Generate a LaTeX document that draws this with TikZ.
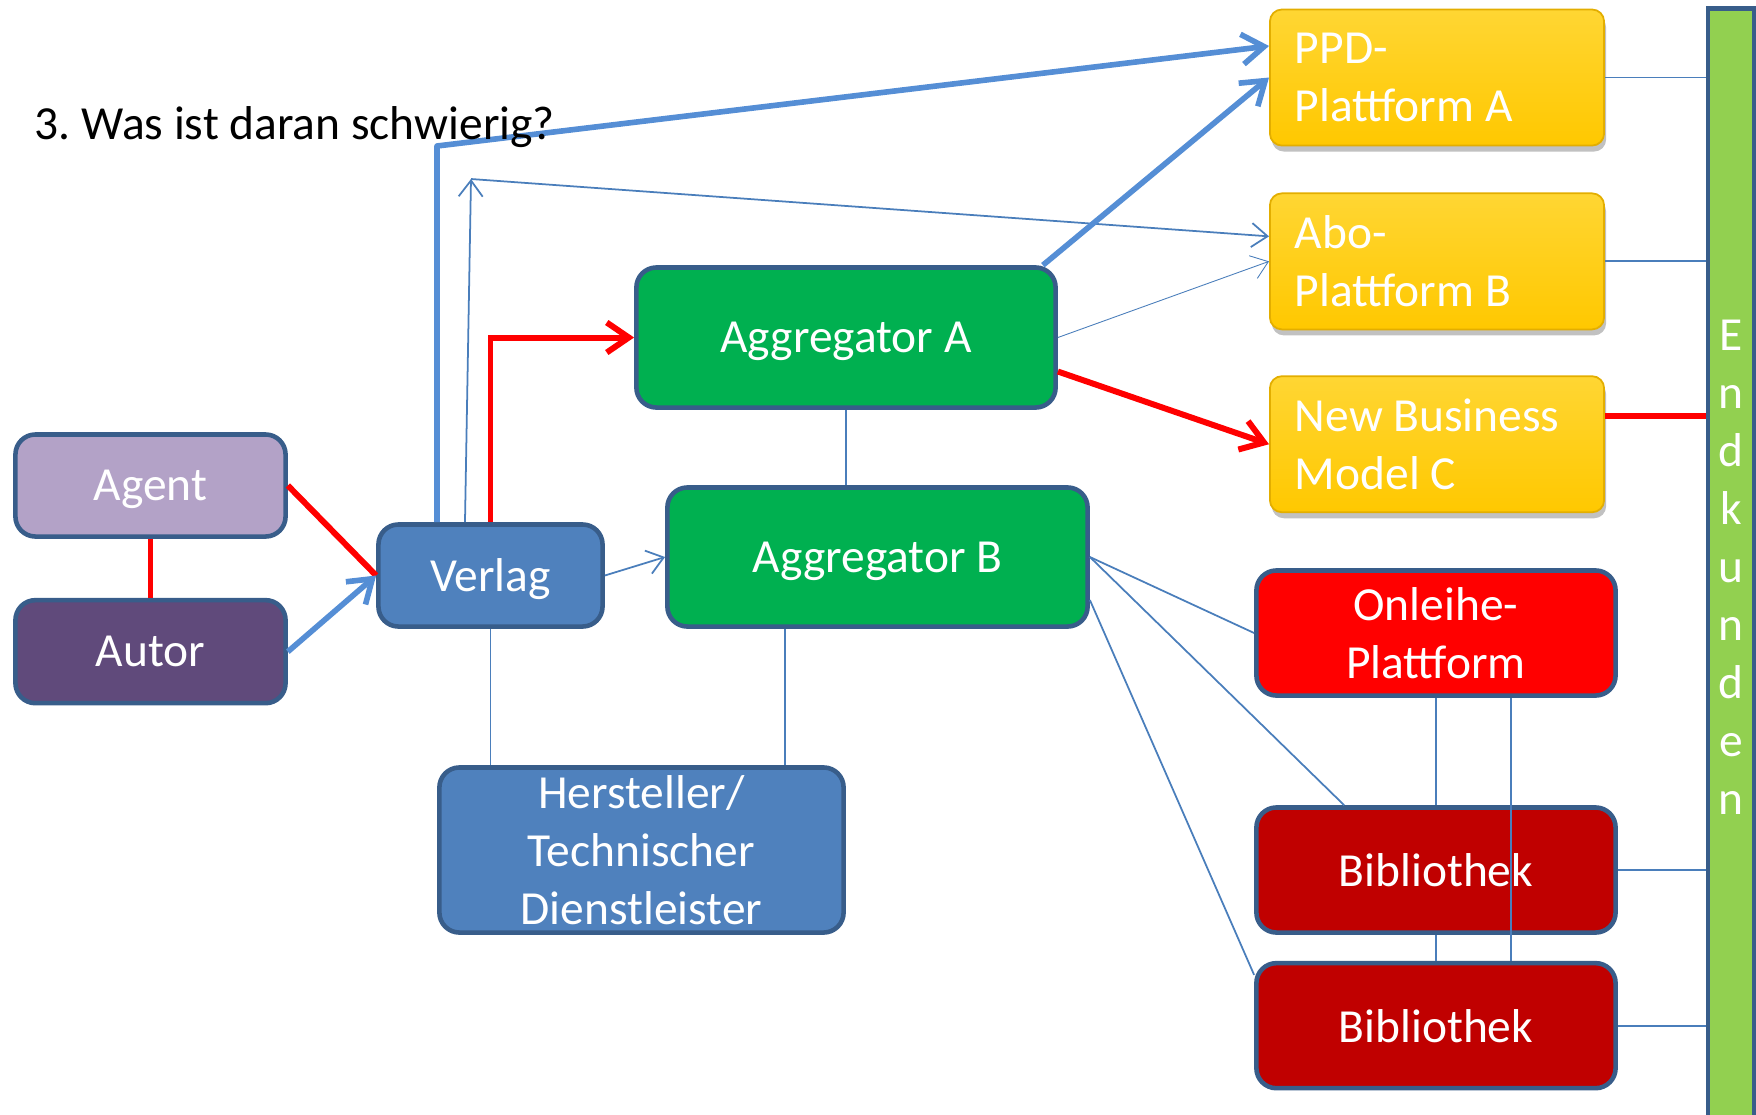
\documentclass[tikz,border=0pt]{standalone}
\usepackage{fontspec}
\setmainfont{Carlito}
\usetikzlibrary{arrows.meta,positioning,shadows}
\definecolor{frame}{HTML}{385D8A}
\definecolor{lilac}{HTML}{B3A2C7}
\definecolor{plum}{HTML}{604A7B}
\definecolor{steel}{HTML}{4F81BD}
\definecolor{leaf}{HTML}{00B050}
\definecolor{goldtop}{HTML}{FFD633}
\definecolor{gold}{HTML}{FFC800}
\definecolor{goldedge}{HTML}{E3AE00}
\definecolor{brick}{HTML}{C00000}
\definecolor{lime}{HTML}{92D050}
\definecolor{sky}{HTML}{558ED5}
\definecolor{wire}{HTML}{4A7EBB}
\newcommand{\boxfont}{\fontsize{13.5}{16.5}\selectfont\frenchspacing}
\tikzset{
  box/.style={rectangle,rounded corners=0.2cm,draw=frame,line width=1.3pt,text=white,align=center,font=\boxfont,inner sep=0pt,text depth=0pt},
  goldbox/.style={rectangle,rounded corners=0.12cm,draw=goldedge,line width=0.5pt,top color=goldtop,bottom color=gold,text=white,align=flush left,font=\boxfont,
    minimum width=3.34cm,minimum height=1.36cm,text width=2.84cm,inner xsep=0.25cm,
    drop shadow={shadow xshift=0.02cm,shadow yshift=-0.06cm,opacity=0.35,fill=black!70}},
  barbox/.style={rectangle,draw=frame,line width=1.3pt,fill=lime,text=white,align=center,font=\boxfont,inner sep=0pt},
  redline/.style={red,line width=1.7pt},
  redarrow/.style={red,line width=1.7pt,-{Straight Barb[length=2.2mm,width=3mm]}},
  bluearrow/.style={sky,line width=1.6pt,line join=round,-{Straight Barb[length=2.2mm,width=3mm]}},
  thinarrow/.style={wire,line width=0.5pt,-{Straight Barb[length=1.6mm,width=2.4mm]}},
  hairarrow/.style={wire,line width=0.25pt,-{Straight Barb[length=1.6mm,width=2.4mm]}},
  link/.style={wire,line width=0.5pt}
}
\begin{document}
\begin{tikzpicture}[x=0.01cm,y=-0.01cm,node distance=0.46cm]
  \useasboundingbox (0,0) rectangle (1756,1114);
  \node[box,fill=lilac,minimum width=2.7cm,minimum height=1.02cm] (agent) at (150.5,485.5) {Agent};
  \node[box,fill=plum,minimum width=2.7cm,minimum height=1.03cm,below=0.59cm of agent] (autor) {Autor};
  \node[box,fill=steel,minimum width=2.24cm,minimum height=1.02cm] (verlag) at (490.5,575.5) {Verlag};
  \node[box,fill=leaf,minimum width=4.19cm,minimum height=1.4cm] (aggA) at (846,337.5) {Aggregator A};
  \node[box,fill=leaf,minimum width=4.2cm,minimum height=1.39cm] (aggB) at (877.5,557) {Aggregator B};
  \node[box,fill=steel,minimum width=4.04cm,minimum height=1.65cm] (hersteller) at (641.5,850) {Hersteller/\\Technischer\\Dienstleister};
  \node[goldbox] (ppd) at (1437,77.5) {PPD-\\Plattform A};
  \node[goldbox,below=of ppd] (abo) {Abo-\\Plattform B};
  \node[goldbox,below=0.45cm of abo] (nbm) {New Business\\Model C};
  \node[box,fill=red,minimum width=3.59cm,minimum height=1.25cm] (onleihe) at (1436,633) {Onleihe-\\Plattform};
  \node[box,fill=brick,minimum width=3.59cm,minimum height=1.25cm] (bib1) at (1436,870) {Bibliothek};
  \node[box,fill=brick,minimum width=3.59cm,minimum height=1.25cm,below=0.26cm of bib1] (bib2) {Bibliothek};
  \node[barbox,minimum width=0.46cm,minimum height=11.16cm] (bar) at (1731,567) {E\\n\\d\\k\\u\\n\\d\\e\\n};
  \coordinate (bend1) at (437,146);
  \coordinate (bend2) at (471,179);
  \draw[redline] (agent) -- (autor);
  \draw[redline] (agent.east) -- (verlag.west);
  \draw[bluearrow] (autor.east) -- (verlag.west);
  \draw[thinarrow] (verlag.east) -- (aggB.west);
  \draw[redarrow] (verlag.north) |- (aggA.west);
  \draw[bluearrow] (verlag.north -| bend1) -- (bend1) -- ([yshift=0.315cm]ppd.west);
  \draw[thinarrow] ([xshift=-0.255cm]verlag.north) -- (bend2);
  \draw[thinarrow] (bend2) -- ([yshift=0.25cm]abo.west);
  \draw[bluearrow] ([xshift=-0.15cm]aggA.north east) -- (ppd.west);
  \draw[hairarrow] (aggA.east) -- (abo.west);
  \draw[redarrow] ([yshift=-0.34cm]aggA.east) -- (nbm.west);
  \draw[link] (aggA.south) -- (aggA.south |- aggB.north);
  \draw[link] (verlag.south) -- (verlag.south |- hersteller.north);
  \draw[link] ([xshift=-0.925cm]aggB.south) -- ([xshift=-0.925cm]aggB.south |- hersteller.north);
  \draw[link] (aggB.east) -- (onleihe.west);
  \draw[link] (aggB.east) -- ([xshift=0.9cm]bib1.north west);
  \draw[link] ([yshift=-0.43cm]aggB.east) -- ([yshift=-0.14cm]bib2.north west);
  \draw[link] (onleihe) -- (bib1);
  \draw[link] (bib1) -- (bib2);
  \draw[link] ([xshift=0.75cm]onleihe.south) -- ([xshift=0.75cm]bib2.north);
  \draw[link] (ppd.east) -- (ppd.east -| bar.west);
  \draw[link] (abo.east) -- (abo.east -| bar.west);
  \draw[redline] ([yshift=0.28cm]nbm.east) -- ([yshift=0.28cm]nbm.east -| bar.west);
  \draw[link] (bib1.east) -- (bib1.east -| bar.west);
  \draw[link] (bib2.east) -- (bib2.east -| bar.west);
  \node[anchor=base west,inner sep=0pt,font=\boxfont] (title) at (34,139) {3. Was ist daran schwierig?};
\end{tikzpicture}
\end{document}
